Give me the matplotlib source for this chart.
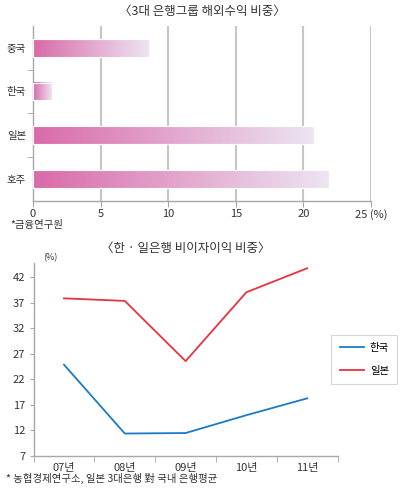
import numpy as np
import matplotlib
matplotlib.use("Agg")
import matplotlib.pyplot as plt
from matplotlib.colors import LinearSegmentedColormap

plt.rcParams["font.family"] = ["Noto Sans CJK KR", "DejaVu Sans"]

# top chart data
bar_labels = ["중국", "한국", "일본", "호주"]
bar_values = [8.6, 1.4, 20.8, 21.9]
bar_ticks = [0, 5, 10, 15, 20, 25]

# bottom chart data
years = ["07년", "08년", "09년", "10년", "11년"]
korea = [24.9, 11.4, 11.5, 15.0, 18.3]
japan = [37.9, 37.4, 25.6, 39.1, 43.8]
line_ticks = [7, 12, 17, 22, 27, 32, 37, 42]

GRAY = "#a8a8a8"
TXT = "#333333"

fig = plt.figure(figsize=(4.0, 4.9), dpi=100)

# ---------- top: gradient bars ----------
ax1 = fig.add_axes([0.0825, 0.5904, 0.845, 0.3566])
cmap = LinearSegmentedColormap.from_list("pk", ["#d96aa9", "#ede5f2"])
grad = np.linspace(0, 1, 256).reshape(1, -1)
ypos = np.arange(len(bar_labels))
h = 0.4
for y, v in zip(ypos, bar_values):
    ax1.imshow(grad, extent=[0, v, y - h / 2, y + h / 2], aspect="auto",
               cmap=cmap, zorder=3, interpolation="bilinear")
ax1.barh(ypos, bar_values, height=h, color="none", edgecolor="white",
         linewidth=0.8, zorder=4)
ax1.set_xlim(0, 25)
ax1.set_ylim(len(bar_labels) - 0.5, -0.5)
ax1.set_xticks(bar_ticks)
ax1.set_xticklabels([str(t) for t in bar_ticks[:-1]] + ["25 (%)"])
ax1.set_yticks(ypos)
ax1.set_yticklabels(bar_labels)
ax1.set_yticks(np.arange(0.5, len(bar_labels) - 0.5, 1), minor=True)
ax1.tick_params(axis="y", which="major", length=0, pad=5, labelsize=7.5, colors=TXT)
ax1.tick_params(axis="y", which="minor", length=4, color=GRAY, direction="out")
ax1.tick_params(axis="x", length=4, color=GRAY, labelsize=8, colors=TXT, pad=2)
for t in bar_ticks[1:]:
    ax1.axvline(t, color="#c6c6c6", linewidth=1.5, zorder=1)
for s in ["top", "right"]:
    ax1.spines[s].set_visible(False)
for s in ["left", "bottom"]:
    ax1.spines[s].set_color(GRAY)
    ax1.spines[s].set_linewidth(1.0)
ax1.set_title("〈3대 은행그룹 해외수익 비중〉", fontsize=9, color=TXT, pad=8,
              fontweight="medium")
fig.text(0.025, 1 - 225 / 490, "*금융연구원", fontsize=7.5, color=TXT, va="center")

# ---------- bottom: lines ----------
ax2 = fig.add_axes([0.084, 0.0694, 0.76, 0.3946])
x = np.arange(len(years))
ax2.plot(x, korea, color="#1a7ac8", linewidth=1.3, label="한국")
ax2.plot(x, japan, color="#e8323f", linewidth=1.3, label="일본")
ax2.set_xlim(-0.5, len(years) - 0.5)
ax2.set_ylim(7, 44.9)
ax2.set_yticks(line_ticks)
ax2.set_xticks(x)
ax2.set_xticklabels(years)
ax2.set_xticks(np.arange(-0.5, len(years), 1), minor=True)
ax2.tick_params(axis="x", which="major", length=0, labelsize=8, colors=TXT, pad=5)
ax2.tick_params(axis="x", which="minor", length=4, color=GRAY)
ax2.tick_params(axis="y", length=3, color=GRAY, labelsize=8, colors=TXT, pad=3)
for s in ["top", "right"]:
    ax2.spines[s].set_visible(False)
for s in ["left", "bottom"]:
    ax2.spines[s].set_color(GRAY)
    ax2.spines[s].set_linewidth(1.0)
ax2.text(0.03, 1.0, "(%)", transform=ax2.transAxes, fontsize=6.5, color=TXT,
         va="bottom", ha="left")
ax2.set_title("〈한 · 일은행 비이자이익 비중〉", fontsize=9, color=TXT, pad=8,
              fontweight="medium")
leg = ax2.legend(loc="center left", bbox_to_anchor=(0.962, 0.5), fontsize=7.5,
                 frameon=True, fancybox=False, edgecolor="#cccccc",
                 handlelength=2.3, labelspacing=1.2, borderpad=0.8,
                 handletextpad=0.6)
leg.get_frame().set_linewidth(0.8)
fig.text(0.015, 1 - 478 / 490, "* 농협경제연구소, 일본 3대은행 對 국내 은행평균",
         fontsize=7.5, color=TXT, va="center")

fig.savefig("out.png", dpi=100, facecolor="white")
